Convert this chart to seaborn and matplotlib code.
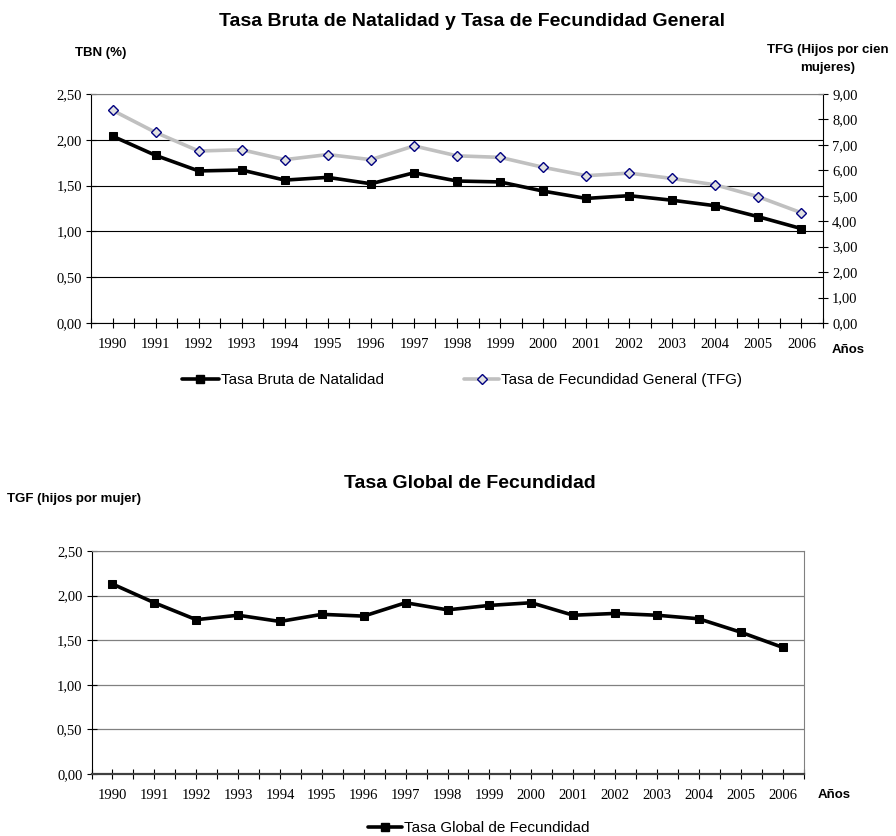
import seaborn as sns
import matplotlib.pyplot as plt
import pandas as pd
from matplotlib.ticker import FixedLocator, FuncFormatter

years = list(range(1990, 2007))
tbn = [2.04, 1.83, 1.66, 1.67, 1.56, 1.59, 1.52, 1.64, 1.55, 1.54, 1.44, 1.36, 1.39, 1.34, 1.28, 1.16, 1.03]
tfg = [8.36, 7.49, 6.76, 6.81, 6.42, 6.62, 6.42, 6.96, 6.57, 6.51, 6.12, 5.79, 5.89, 5.68, 5.43, 4.96, 4.33]
tgf = [2.13, 1.92, 1.73, 1.78, 1.71, 1.79, 1.77, 1.92, 1.84, 1.89, 1.92, 1.78, 1.80, 1.78, 1.74, 1.59, 1.42]

left_ticks = [0, 0.5, 1.0, 1.5, 2.0, 2.5]
right_ticks = [0, 1, 2, 3, 4, 5, 6, 7, 8, 9]

df = pd.DataFrame({"year": years, "tbn": tbn, "tfg": tfg, "tgf": tgf})

sns.set_style("white")
plt.rcParams['font.family'] = ['Liberation Sans', 'DejaVu Sans']
plt.rcParams['text.color'] = 'black'
plt.rcParams['xtick.color'] = 'black'
plt.rcParams['ytick.color'] = 'black'

W, H = 896, 836
fig = plt.figure(figsize=(W / 100, H / 100), dpi=100)

def box(l, t, r, b):
    return [l / W, 1 - b / H, (r - l) / W, (b - t) / H]

def fy(y):
    return 1 - y / H

comma = FuncFormatter(lambda v, p: f"{v:.2f}".replace(".", ","))
TICKFS = 10.5

def serif_labels(labels):
    for lab in labels:
        lab.set_fontfamily('Liberation Serif')
        lab.set_fontsize(TICKFS)

def style_x(ax):
    ax.set_xlim(1989.5, 2006.5)
    ax.xaxis.set_major_locator(FixedLocator(years))
    ax.xaxis.set_minor_locator(FixedLocator([y + 0.5 for y in range(1989, 2007)]))
    ax.tick_params(axis='x', which='both', direction='inout', length=7, width=0.8,
                   bottom=True, pad=7)
    serif_labels(ax.get_xticklabels())
    ax.set_xlabel("")

# ---- top chart
ax1 = fig.add_axes(box(91, 94, 823, 323))
sns.lineplot(data=df, x="year", y="tbn", ax=ax1, color="black", lw=2.6,
             marker="s", markersize=6, markeredgecolor="black", legend=False)
ax1.set_ylim(0, 2.5)
ax1.set_yticks(left_ticks)
ax1.yaxis.set_major_formatter(comma)
ax1.yaxis.grid(True, color="black", lw=0.8)
ax1.set_axisbelow(True)
style_x(ax1)
ax1.tick_params(axis='y', direction='inout', length=7, width=0.8, left=True, pad=3)
serif_labels(ax1.get_yticklabels())
for s in ["top", "right"]:
    ax1.spines[s].set_visible(False)
ax1.spines["left"].set_color("black")
ax1.spines["bottom"].set_color("black")
ax1.set_ylabel("")

ax2 = ax1.twinx()
sns.lineplot(data=df, x="year", y="tfg", ax=ax2, color="#c0c0c0", lw=2.6,
             marker="D", markersize=5, markerfacecolor="#e0e0e0", markeredgecolor="#000080",
             markeredgewidth=1.0, legend=False)
ax2.set_ylim(0, 9)
ax2.set_yticks(right_ticks)
ax2.yaxis.set_major_formatter(comma)
ax2.tick_params(axis='y', direction='inout', length=7, width=0.8, right=True, pad=3)
serif_labels(ax2.get_yticklabels())
ax2.spines["right"].set_color("black")
ax2.spines["top"].set_color("#808080")
ax2.spines["left"].set_visible(False)
ax2.spines["bottom"].set_visible(False)
ax2.set_ylabel("")
ax2.set_xlabel("")

fig.text(472 / W, fy(21), "Tasa Bruta de Natalidad y Tasa de Fecundidad General",
         ha="center", va="center", fontsize=14, fontweight="bold")
fig.text(75 / W, fy(53), "TBN (%)", ha="left", va="center", fontsize=9.5, fontweight="bold")
fig.text(828 / W, fy(59), "TFG (Hijos por cien\nmujeres)", ha="center", va="center",
         fontsize=9.5, fontweight="bold", multialignment="center", linespacing=1.6)
fig.text(832 / W, fy(350), "Años", ha="left", va="center", fontsize=9.5, fontweight="bold")

h1, = plt.plot([], [], color="black", lw=2.6, marker="s", markersize=6)
h2, = plt.plot([], [], color="#c0c0c0", lw=2.6, marker="D", markersize=5,
               markerfacecolor="#e0e0e0", markeredgecolor="#000080")
fig.legend([h1], ["Tasa Bruta de Natalidad"], loc="center left",
           bbox_to_anchor=(182 / W, fy(380)), frameon=False, fontsize=11, borderpad=0,
           borderaxespad=0, handlelength=2.4, handletextpad=0.15)
fig.legend([h2], ["Tasa de Fecundidad General (TFG)"], loc="center left",
           bbox_to_anchor=(464 / W, fy(380)), frameon=False, fontsize=11, borderpad=0,
           borderaxespad=0, handlelength=2.3, handletextpad=0.15)

# ---- bottom chart
ax3 = fig.add_axes(box(91.5, 551, 803.5, 774))
sns.lineplot(data=df, x="year", y="tgf", ax=ax3, color="black", lw=2.6,
             marker="s", markersize=6, markeredgecolor="black", legend=False)
ax3.set_ylim(0, 2.5)
ax3.set_yticks(left_ticks)
ax3.yaxis.set_major_formatter(comma)
ax3.yaxis.grid(True, color="#808080", lw=0.9)
ax3.set_axisbelow(True)
style_x(ax3)
ax3.tick_params(axis='y', direction='inout', length=7, width=0.8, left=True, pad=3)
serif_labels(ax3.get_yticklabels())
ax3.spines["top"].set_color("#808080")
ax3.spines["right"].set_color("#808080")
ax3.spines["left"].set_color("black")
ax3.spines["bottom"].set_color("#404040")
ax3.spines["bottom"].set_linewidth(1.6)
ax3.set_ylabel("")

fig.text(470 / W, fy(483), "Tasa Global de Fecundidad", ha="center", va="center",
         fontsize=14, fontweight="bold")
fig.text(7 / W, fy(499), "TGF (hijos por mujer)", ha="left", va="center",
         fontsize=9.5, fontweight="bold")
fig.text(818 / W, fy(795), "Años", ha="left", va="center", fontsize=9.5, fontweight="bold")
fig.legend([h1], ["Tasa Global de Fecundidad"], loc="center left",
           bbox_to_anchor=(368 / W, fy(828)), frameon=False, fontsize=11, borderpad=0,
           borderaxespad=0, handlelength=2.2, handletextpad=0.15)

fig.savefig("out.png", dpi=100)
